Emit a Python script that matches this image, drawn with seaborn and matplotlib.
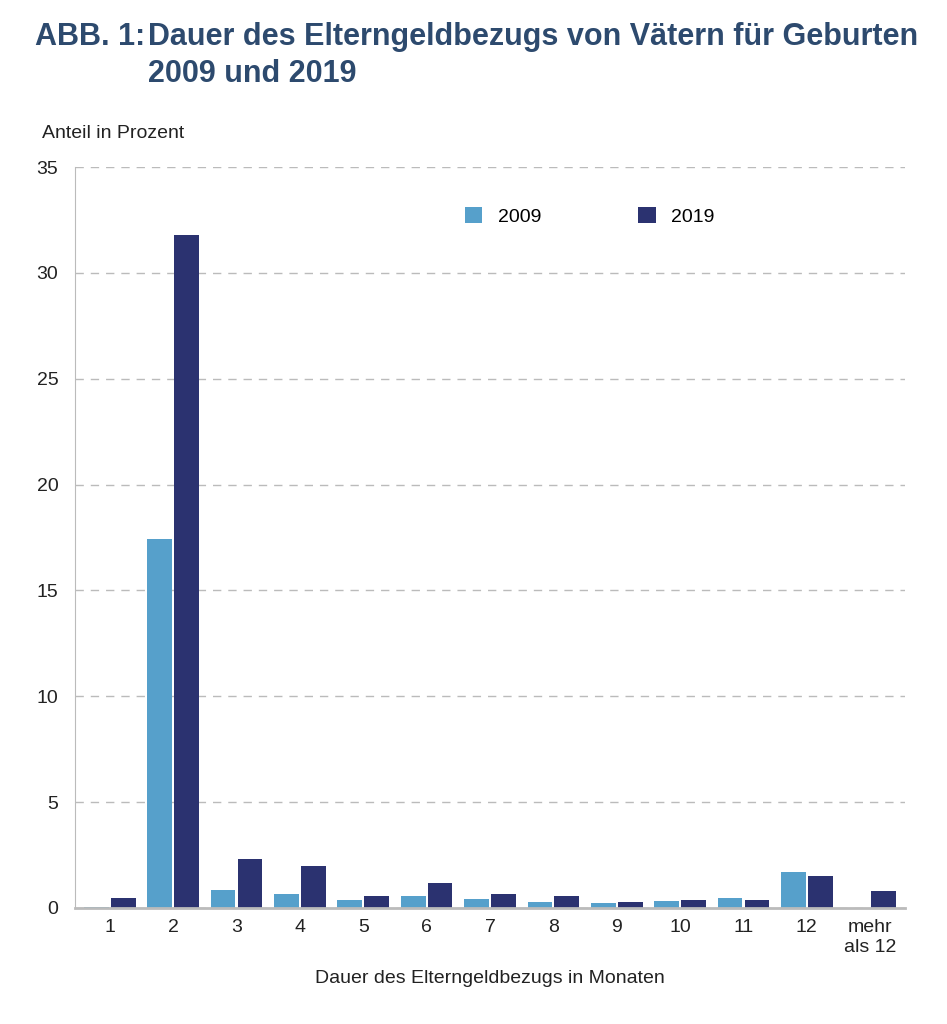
import matplotlib
matplotlib.use("Agg")
import matplotlib.pyplot as plt
import seaborn as sns
import pandas as pd

plt.rcParams["font.family"] = "Liberation Sans"

categories = ["1","2","3","4","5","6","7","8","9","10","11","12","mehr\nals 12"]
v2009 = [0.07,17.45,0.85,0.64,0.40,0.57,0.44,0.30,0.23,0.33,0.46,1.72,0.0]
v2019 = [0.48,31.8,2.31,1.97,0.58,1.17,0.64,0.55,0.30,0.37,0.37,1.51,0.82]
years = ["2009","2019"]

df = pd.DataFrame({"cat": categories*2, "val": v2009+v2019,
                   "year": [years[0]]*len(categories)+[years[1]]*len(categories)})

fig = plt.figure(figsize=(9.47,10.24), dpi=100)
ax = fig.add_axes([75/947, 1-908/1024, 830/947, 741/1024])
sns.barplot(data=df, x="cat", y="val", hue="year", palette=["#56a0cb","#2b3270"],
            width=0.85, gap=0.08, ax=ax, saturation=1, legend=True)
ax.set_ylim(0,35)
ax.set_yticks(range(0,36,5))
ax.set_xlim(-0.55, 12.55)
ax.yaxis.grid(True, linestyle=(0,(6,5)), color="#bbbbbb", linewidth=1)
ax.set_axisbelow(True)
for s in ["top","right"]:
    ax.spines[s].set_visible(False)
ax.spines["left"].set_color("#bbbbbb")
ax.spines["bottom"].set_color("#bbbbbb")
ax.spines["bottom"].set_linewidth(2)
ax.tick_params(length=0, labelsize=14, colors="#222222", pad=8)
ax.tick_params(axis="y", pad=12)
ax.set_ylabel("")
ax.set_xlabel("Dauer des Elterngeldbezugs in Monaten", fontsize=14, labelpad=10, color="#222222")
fig.text(42/947, 1-133/1024, "Anteil in Prozent", fontsize=14, va="center", color="#222222")
fig.text(35/947, 1-22/1024, "ABB. 1:", fontsize=22, fontweight="bold", color="#2d4a6e", va="top")
fig.text(148/947, 1-22/1024, "Dauer des Elterngeldbezugs von Vätern für Geburten\n2009 und 2019",
         fontsize=22, fontweight="bold", color="#2d4a6e", va="top", linespacing=1.3)
ax.legend(loc="upper center", bbox_to_anchor=(0.62, 0.97), ncol=2, frameon=False,
          fontsize=14, handlelength=0.9, handleheight=0.9, columnspacing=5)
plt.savefig("out.png", dpi=100)
